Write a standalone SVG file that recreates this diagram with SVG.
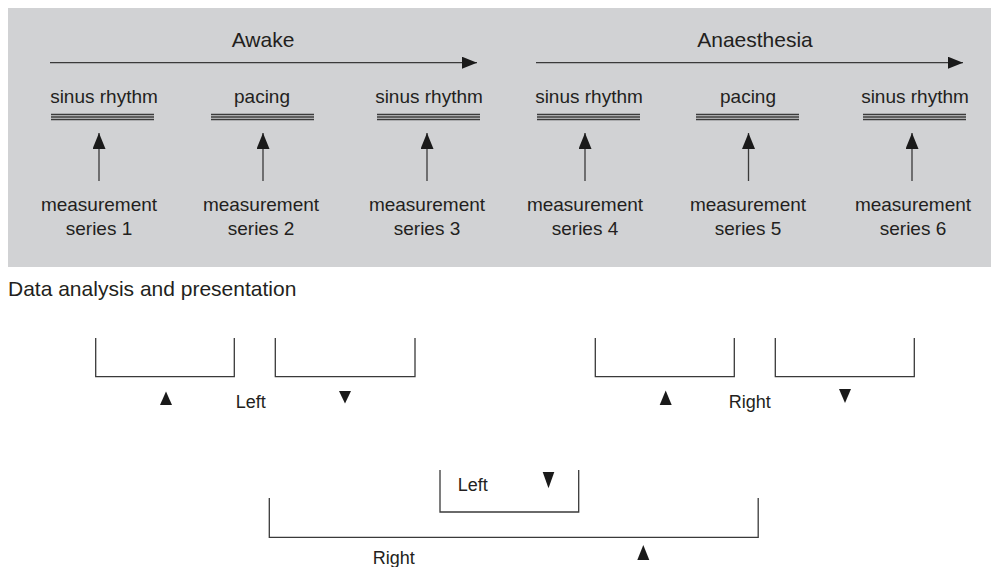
<svg xmlns="http://www.w3.org/2000/svg" width="991" height="567" viewBox="0 0 991 567">
<style>
text{font-family:"Liberation Sans",Arial,sans-serif;fill:#231f20;}
.lbl{font-size:19px;text-anchor:middle;}
.phase{font-size:21px;text-anchor:middle;}
.head{font-size:21px;}
.sm{font-size:18px;}
.ln{stroke:#3a3a3a;stroke-width:1.3;fill:none;}
.tri{fill:#1a1a1a;}
</style>
<defs>
<marker id="ah" viewBox="0 0 15 12" refX="15" refY="6" markerWidth="15" markerHeight="12" markerUnits="userSpaceOnUse" orient="auto">
<path d="M0,0 L15,6 L0,12 Z" fill="#1a1a1a"/>
</marker>
<marker id="av" viewBox="0 0 16 13" refX="16" refY="6.5" markerWidth="16" markerHeight="13" markerUnits="userSpaceOnUse" orient="auto">
<path d="M0,0 L16,6.5 L0,13 Z" fill="#1a1a1a"/>
</marker>
<g id="triple">
<line x1="0" y1="114.5" x2="103" y2="114.5" class="ln" stroke-width="1"/>
<line x1="0" y1="117" x2="103" y2="117" class="ln" stroke-width="1"/>
<line x1="0" y1="119.5" x2="103" y2="119.5" class="ln" stroke-width="1"/>
</g>
</defs>
<rect id="bg" x="8" y="8" width="983" height="259" fill="#d1d2d4"/>
<g id="phase-awake">
<text class="phase" x="263" y="47">Awake</text>
</g>
<g id="phase-anaesthesia">
<text class="phase" x="755" y="47">Anaesthesia</text>
</g>
<g id="state1"><text class="lbl" x="104" y="103">sinus rhythm</text><use href="#triple" x="51"/></g>
<g id="state2"><text class="lbl" x="262" y="103">pacing</text><use href="#triple" x="211"/></g>
<g id="state3"><text class="lbl" x="429" y="103">sinus rhythm</text><use href="#triple" x="377"/></g>
<g id="state4"><text class="lbl" x="589" y="103">sinus rhythm</text><use href="#triple" x="537"/></g>
<g id="state5"><text class="lbl" x="748" y="103">pacing</text><use href="#triple" x="696"/></g>
<g id="state6"><text class="lbl" x="915" y="103">sinus rhythm</text><use href="#triple" x="863"/></g>
<g id="series1"><text class="lbl" x="99" y="211">measurement</text><text class="lbl" x="99" y="235">series 1</text></g>
<g id="series2"><text class="lbl" x="261" y="211">measurement</text><text class="lbl" x="261" y="235">series 2</text></g>
<g id="series3"><text class="lbl" x="427" y="211">measurement</text><text class="lbl" x="427" y="235">series 3</text></g>
<g id="series4"><text class="lbl" x="585" y="211">measurement</text><text class="lbl" x="585" y="235">series 4</text></g>
<g id="series5"><text class="lbl" x="748" y="211">measurement</text><text class="lbl" x="748" y="235">series 5</text></g>
<g id="series6"><text class="lbl" x="913" y="211">measurement</text><text class="lbl" x="913" y="235">series 6</text></g>
<g id="connectors">
<line class="ln" x1="50" y1="62.7" x2="477" y2="62.7" marker-end="url(#ah)"/>
<line class="ln" x1="536" y1="62.7" x2="963" y2="62.7" marker-end="url(#ah)"/>
<line class="ln" x1="99" y1="181" x2="99" y2="133" marker-end="url(#av)"/>
<line class="ln" x1="263" y1="181" x2="263" y2="133" marker-end="url(#av)"/>
<line class="ln" x1="427" y1="181" x2="427" y2="133" marker-end="url(#av)"/>
<line class="ln" x1="585" y1="181" x2="585" y2="133" marker-end="url(#av)"/>
<line class="ln" x1="748.5" y1="181" x2="748.5" y2="133" marker-end="url(#av)"/>
<line class="ln" x1="912" y1="181" x2="912" y2="133" marker-end="url(#av)"/>
</g>
<g id="heading"><text class="head" x="8" y="296">Data analysis and presentation</text></g>
<g id="bracket-left-1"><polyline class="ln" points="95.7,338 95.7,376.7 234.3,376.7 234.3,338"/></g>
<g id="bracket-left-2"><polyline class="ln" points="275.3,338 275.3,376.7 415,376.7 415,338"/></g>
<g id="group-left">
<path class="tri" d="M166,391.5 L172,405 L160,405 Z"/>
<text class="sm" x="235.7" y="407.7">Left</text>
<path class="tri" d="M339,391 L351,391 L345,403.5 Z"/>
</g>
<g id="bracket-right-1"><polyline class="ln" points="595.3,338 595.3,376.7 734.3,376.7 734.3,338"/></g>
<g id="bracket-right-2"><polyline class="ln" points="775.3,338 775.3,376.7 914.3,376.7 914.3,338"/></g>
<g id="group-right">
<path class="tri" d="M665.7,390.5 L671.7,405 L659.7,405 Z"/>
<text class="sm" x="728.7" y="407.7">Right</text>
<path class="tri" d="M839,389 L851,389 L845,403 Z"/>
</g>
<g id="bracket-inner"><polyline class="ln" points="440,470 440,512 578.7,512 578.7,470"/>
<text class="sm" x="457.7" y="490.7">Left</text>
<path class="tri" d="M542.7,472 L554.3,472 L548.5,488.3 Z"/>
</g>
<g id="bracket-outer"><polyline class="ln" points="269.3,498 269.3,537.4 758.2,537.4 758.2,498"/>
<text class="sm" x="372.7" y="564">Right</text>
<path class="tri" d="M643.3,545 L649.3,560 L637.3,560 Z"/>
</g>
</svg>
